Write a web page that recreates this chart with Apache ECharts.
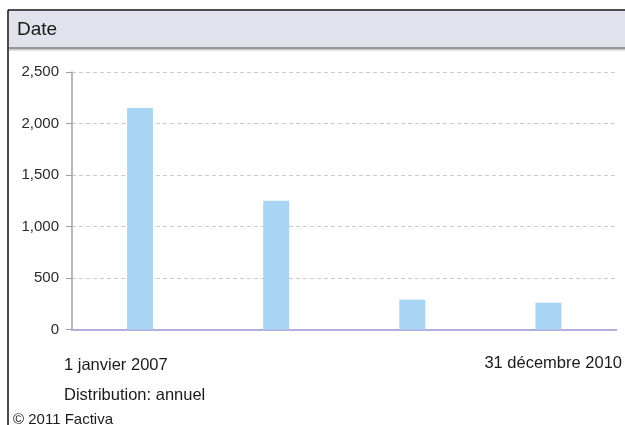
<!DOCTYPE html>
<html>
<head>
<meta charset="utf-8">
<script src="https://cdn.jsdelivr.net/npm/echarts@6/dist/echarts.min.js"></script>
<style>
html,body{margin:0;padding:0;background:#fff;}
#chart{width:625px;height:425px;}
</style>
</head>
<body>
<div id="chart"></div>
<script>
var categories = ['2007', '2008', '2009', '2010'];
var values = [2150, 1250, 290, 260];
var yTicks = [0, 500, 1000, 1500, 2000, 2500];
var headerTitle = 'Date';
var startLabel = '1 janvier 2007';
var endLabel = '31 décembre 2010';
var distributionLabel = 'Distribution: annuel';
var copyrightLabel = '© 2011 Factiva';

var FONT = '"Liberation Sans", Arial, Helvetica, sans-serif';
var chart = echarts.init(document.getElementById('chart'), null, {renderer: 'canvas'});

var option = {
  backgroundColor: '#ffffff',
  animation: false,
  grid: {left: 72, right: 8.5, top: 72, bottom: 95.5, containLabel: false},
  xAxis: {
    type: 'category',
    data: categories,
    axisLine: {show: true, lineStyle: {color: '#b3aede', width: 2}},
    axisTick: {show: false},
    axisLabel: {show: false},
    splitLine: {show: false}
  },
  yAxis: {
    type: 'value',
    min: yTicks[0],
    max: yTicks[yTicks.length - 1],
    interval: 500,
    axisLine: {show: true, lineStyle: {color: '#a0a0a0', width: 1.5}},
    axisTick: {show: true, length: 6, lineStyle: {color: '#a0a0a0', width: 1}},
    axisLabel: {
      margin: 13,
      color: '#2a2a2a',
      fontFamily: FONT,
      fontSize: 15,
      formatter: function (v) { return v.toLocaleString('en-US'); }
    },
    splitLine: {show: true, lineStyle: {color: '#cccccc', type: [4, 3], width: 1}}
  },
  series: [{
    type: 'bar',
    data: values,
    barWidth: 26,
    itemStyle: {color: '#a9d5f5'}
  }],
  graphic: [
    {type: 'rect', shape: {x: 9, y: 11, width: 616, height: 36}, style: {fill: '#e2e2ec'}, silent: true},
    {type: 'rect', shape: {x: 9, y: 47, width: 616, height: 2}, style: {fill: '#969696'}, silent: true},
    {type: 'rect', shape: {x: 9, y: 49, width: 616, height: 1.5}, style: {fill: '#c8c8c8'}, silent: true},
    {type: 'line', shape: {x1: 8, y1: 10, x2: 625, y2: 10}, style: {stroke: '#111111', lineWidth: 1.5}, silent: true},
    {type: 'line', shape: {x1: 8, y1: 10, x2: 8, y2: 425}, style: {stroke: '#111111', lineWidth: 1.5}, silent: true},
    {type: 'text', left: 17, top: 20, style: {text: headerTitle, font: '19px ' + FONT, fill: '#1a1a1a'}, silent: true},
    {type: 'text', left: 64, top: 356.5, style: {text: startLabel, font: '16.5px ' + FONT, fill: '#1a1a1a'}, silent: true},
    {type: 'text', right: 3, top: 354.5, style: {text: endLabel, font: '16.5px ' + FONT, fill: '#1a1a1a', textAlign: 'right'}, silent: true},
    {type: 'text', left: 64, top: 387, style: {text: distributionLabel, font: '16.5px ' + FONT, fill: '#1a1a1a'}, silent: true},
    {type: 'text', left: 13, top: 412.5, style: {text: copyrightLabel, font: '15px ' + FONT, fill: '#1a1a1a'}, silent: true}
  ]
};
chart.setOption(option);
</script>
</body>
</html>
